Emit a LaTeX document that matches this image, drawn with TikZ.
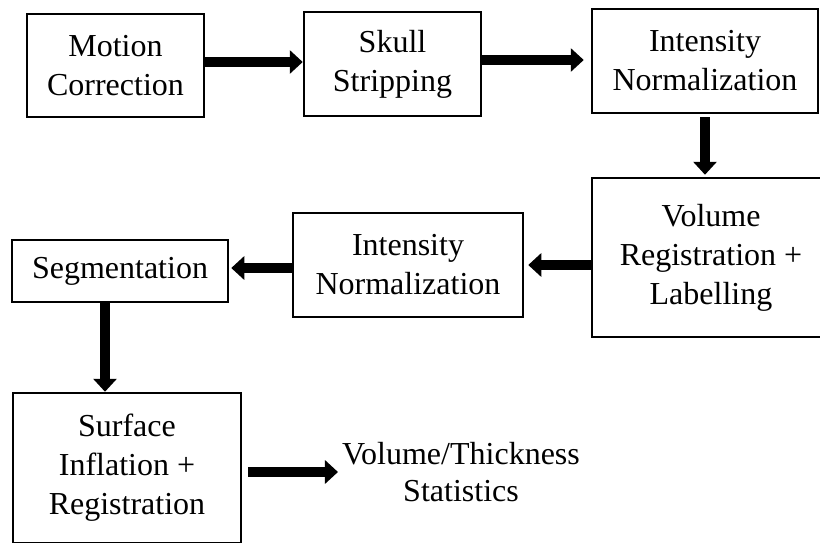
\documentclass[tikz,border=0pt]{standalone}
\usepackage{fontspec}
\setmainfont{Liberation Serif}
\usetikzlibrary{arrows.meta}
\tikzset{
  box/.style={draw,line width=2.5pt,align=center,inner sep=0pt,
    font=\fontsize{32}{39}\selectfont},
  flow/.style={line width=10pt,-{Triangle[width=23pt,length=13pt]}}
}
\begin{document}
\begin{tikzpicture}[x=1pt,y=-1pt]
  \useasboundingbox (0,0) rectangle (820,542);
  \clip (0,0) rectangle (820,542);
  \node[box,minimum width=177pt,minimum height=103pt](mc) at (115.5,65.5){Motion\\Correction};
  \node[box,minimum width=177pt,minimum height=104pt](ss) at (392.5,64){Skull\\Stripping};
  \node[box,minimum width=226pt,minimum height=104pt](inorm) at (705,61){Intensity\\Normalization};
  \node[box,minimum width=238pt,minimum height=159pt](volreg) at (711,257.5){Volume\\Registration +\\Labelling};
  \node[box,minimum width=230pt,minimum height=104pt](inormb) at (408,265){Intensity\\Normalization};
  \node[box,minimum width=216pt,minimum height=62pt](seg) at (120,271){Segmentation};
  \node[box,minimum width=228pt,minimum height=150pt](surf) at (127,468){Surface\\Inflation +\\Registration};
  \node[align=center,inner sep=0pt,font=\fontsize{32}{37}\selectfont](stats) at (461,472){Volume/Thickness\\Statistics};

  \draw[flow] ([yshift=2pt]mc.east |- ss.west) -- ([yshift=2pt]ss.west);
  \draw[flow,shorten >=7pt] ([yshift=1pt]ss.east |- inorm.west) -- ([yshift=1pt]inorm.west);
  \draw[flow,shorten <=3pt,shorten >=2pt] (inorm.south) -- (inorm.south |- volreg.north);
  \draw[flow,shorten >=4pt] (inormb.east -| volreg.west) -- (inormb.east);
  \draw[flow,shorten >=2pt] ([yshift=-3pt]inormb.west) -- ([yshift=-3pt]inormb.west -| seg.east);
  \draw[flow] ([xshift=-15pt]seg.south) -- ([xshift=-15pt]seg.south |- surf.north);
  \draw[flow,shorten <=6pt,shorten >=4pt] (surf.east |- stats.west) -- (stats.west);
\end{tikzpicture}
\end{document}
